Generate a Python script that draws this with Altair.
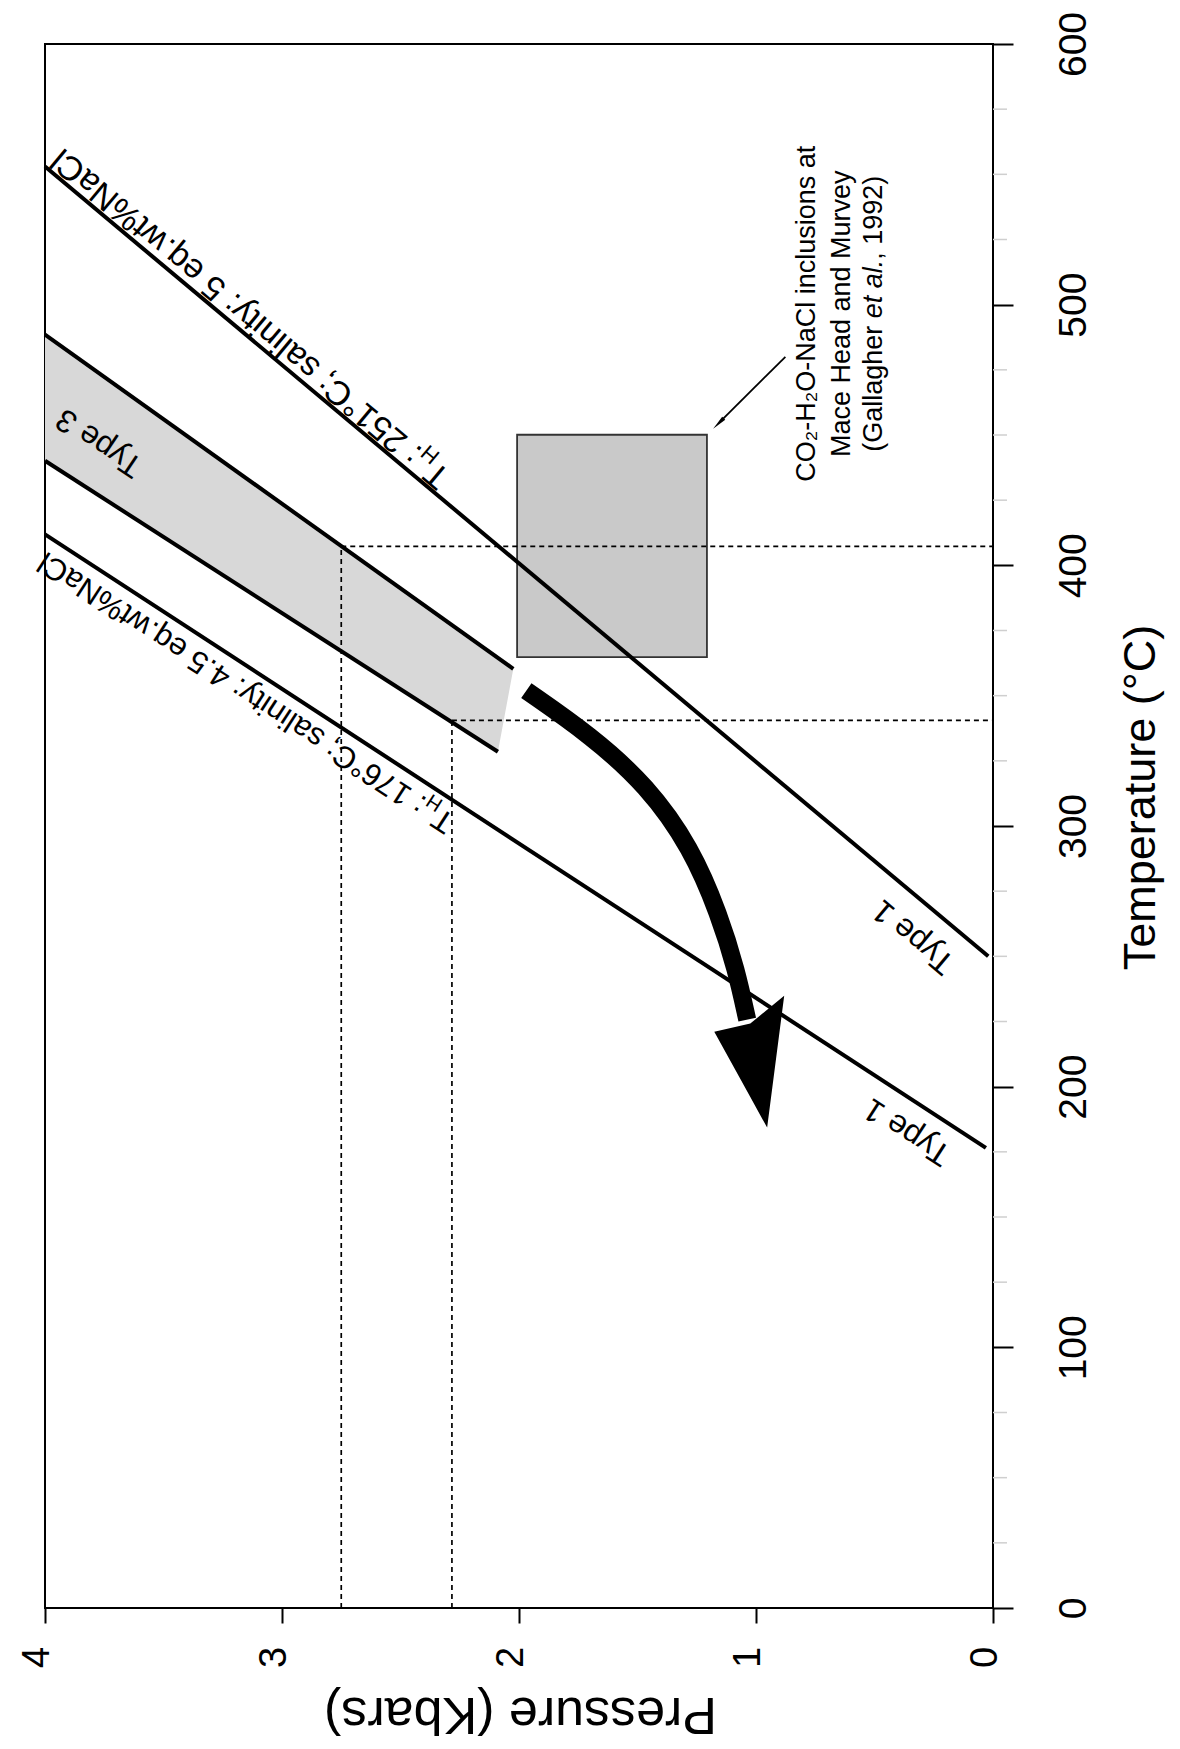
import numpy as np
import pandas as pd
import altair as alt

FONT = "Liberation Sans"

# ---------------- axes ----------------
pressure_ticks = [0, 1, 2, 3, 4]
temperature_ticks = [0, 100, 200, 300, 400, 500, 600]
temperature_minor = [25, 50, 75, 125, 150, 175, 225, 250, 275, 325, 350, 375,
                     425, 450, 475, 525, 550, 575]

# ---------------- isochores (kbar, °C at both ends) ----------------
iso_id = ["th251", "type3_upper", "type3_lower", "th176"]
iso_p0 = [4.0, 4.0, 4.0, 4.0]
iso_t0 = [553.0, 488.5, 440.1, 411.9]
iso_p1 = [0.02, 2.024, 2.089, 0.03]
iso_t1 = [250.0, 360.3, 328.5, 176.5]

# ---------------- Type 3 field ----------------
band_p = [4.0, 2.089, 2.024]
band_t_hi = [488.5, 364.5, 360.3]
band_t_lo = [440.1, 328.5, 360.3]

# ---------------- CO2-H2O-NaCl inclusion field ----------------
box_p = [1.207, 2.008]
box_t = [364.8, 450.1]

# ---------------- dotted read-off lines ----------------
guide_p = [2.75, 2.283]
guide_t = [407.3, 340.5]

# ---------------- cooling path ----------------
path_p = [1.969, 1.695, 1.459, 1.273, 1.155, 1.083, 1.037]
path_t = [351.9, 334.6, 315.4, 291.6, 265.9, 244.8, 225.7]
head_base_p = [0.881, 1.024, 1.176]   # barb, notch, barb
head_base_t = [234.9, 224.2, 221.1]
head_edge_p = [0.881, 0.953, 1.176]   # barb, tip, barb
head_edge_t = [234.9, 184.3, 221.1]

# ---------------- pointer to the inclusion field ----------------
pointer_p = [0.876, 1.151]
pointer_t = [480.0, 455.1]

# ---------------- labels ----------------
type_labels = ["Type 3", "Type 1", "Type 1"]
type_p = [3.771, 0.336, 0.362]
type_t = [447.0, 257.5, 182.7]
type_angle = [214, 220, 213]

th_rest = [": 251°C; salinity: 5 eq.wt%NaCl", ": 176°C; salinity: 4.5 eq.wt%NaCl"]
th_p = [3.131, 3.150]
th_t = [494.9, 351.5]
th_angle = [220, 213]
th_size = [34, 31]
th_rest_em = [13.849, 14.679]

ann_lines = ["CO₂-H₂O-NaCl inclusions at", "Mace Head and Murvey"]
ann_p = [0.784, 0.636]
ann_t = 496.5
ref_pieces = ["(Gallagher", "et al.", ", 1992)"]
ref_style = ["normal", "italic", "normal"]
ref_dx = [-138, -4.5, 54]
ref_p = 0.501

# ---------------- scales / axes ----------------
x_scale = alt.Scale(domain=[0, 4], reverse=True, nice=False)
y_scale = alt.Scale(domain=[0, 600], nice=False)

x_axis = alt.Axis(
    title="Pressure (Kbars)", values=pressure_ticks, format="d",
    domain=False, grid=False, tickSize=15, tickWidth=2, tickColor="black",
    labelFont=FONT, labelFontSize=38, labelColor="black", labelAngle=270,
    labelAlign="center", labelBaseline="alphabetic", labelPadding=34,
    labelOffset=3, labelFlush=False, labelOverlap=False,
    titleFont=FONT, titleFontSize=52, titleFontWeight="normal",
    titleColor="black", titleAngle=180, titleAlign="center",
    titleBaseline="middle", titleX=475, titleY=105, titleLimit=1000,
)
y_axis = alt.Axis(
    title="Temperature (°C)", orient="right", values=temperature_ticks, format="d",
    domain=False, grid=False, tickSize=20, tickWidth=2, tickColor="black",
    labelFont=FONT, labelFontSize=39, labelColor="black", labelAngle=270,
    labelAlign="center", labelBaseline="alphabetic", labelPadding=72,
    labelFlush=False, labelOverlap=False,
    titleFont=FONT, titleFontSize=45, titleFontWeight="normal",
    titleColor="black", titleAngle=270, titleAlign="center",
    titleBaseline="middle", titleX=147, titleY=753, titleLimit=1000,
)


def xenc(field="p"):
    return alt.X(f"{field}:Q", scale=x_scale, axis=x_axis)


def yenc(field="t"):
    return alt.Y(f"{field}:Q", scale=y_scale, axis=y_axis)


layers = []

# Type 3 shaded field
band_df = pd.DataFrame({"p": band_p, "hi": band_t_hi, "lo": band_t_lo})
layers.append(
    alt.Chart(band_df).mark_area(color="#d8d8d8", opacity=1)
    .encode(x=xenc(), y=yenc("hi"), y2="lo:Q")
)

# inclusion field box
box_df = pd.DataFrame({"p": [box_p[0]], "p2": [box_p[1]], "t": [box_t[0]], "t2": [box_t[1]]})
layers.append(
    alt.Chart(box_df).mark_rect(fill="#c9c9c9", stroke="#333333", strokeWidth=1.8)
    .encode(x=xenc(), x2="p2:Q", y=yenc(), y2="t2:Q")
)

# dotted read-off lines
vguide = pd.DataFrame({"p": guide_p, "t": [0.0] * len(guide_p), "t2": guide_t})
hguide = pd.DataFrame({"p": guide_p, "p2": [0.0] * len(guide_p), "t": guide_t})
dot = dict(color="black", strokeWidth=1.7, strokeDash=[5, 4])
layers.append(alt.Chart(vguide).mark_rule(**dot).encode(x=xenc(), y=yenc(), y2="t2:Q"))
layers.append(alt.Chart(hguide).mark_rule(**dot).encode(x=xenc(), x2="p2:Q", y=yenc()))

# isochores
iso_df = pd.DataFrame({"id": iso_id, "p": iso_p0, "t": iso_t0, "p2": iso_p1, "t2": iso_t1})
layers.append(
    alt.Chart(iso_df).mark_rule(color="black", strokeWidth=4)
    .encode(x=xenc(), x2="p2:Q", y=yenc(), y2="t2:Q")
)

# minor temperature ticks
minor_df = pd.DataFrame({"t": temperature_minor})
layers.append(
    alt.Chart(minor_df).mark_rule(color="#cfcfcf", strokeWidth=1.5)
    .encode(x=alt.value(948), x2=alt.value(962), y=yenc())
)

# cooling path
path_df = pd.DataFrame({"p": path_p, "t": path_t})
layers.append(
    alt.Chart(path_df).mark_line(color="black", strokeWidth=18, strokeCap="butt",
                                 interpolate="basis")
    .encode(x=xenc(), y=yenc())
)

# arrow head as a filled band between its base edge and its tip edge
head_x = np.unique(np.array(head_base_p + head_edge_p))
head_df = pd.DataFrame({
    "p": head_x,
    "hi": np.interp(head_x, head_base_p, head_base_t),
    "lo": np.interp(head_x, head_edge_p, head_edge_t),
})
layers.append(
    alt.Chart(head_df).mark_area(color="black", opacity=1)
    .encode(x=xenc(), y=yenc("hi"), y2="lo:Q")
)

# pointer to the inclusion field
ptr_df = pd.DataFrame({"p": [pointer_p[0]], "p2": [pointer_p[1]],
                       "t": [pointer_t[0]], "t2": [pointer_t[1]]})
layers.append(
    alt.Chart(ptr_df).mark_rule(color="black", strokeWidth=1.8)
    .encode(x=xenc(), x2="p2:Q", y=yenc(), y2="t2:Q")
)
tip_df = pd.DataFrame({"p": [pointer_p[1]], "t": [pointer_t[1]]})
layers.append(
    alt.Chart(tip_df).mark_point(shape="wedge", filled=True, color="black",
                                 opacity=1, size=300, angle=225)
    .encode(x=xenc(), y=yenc())
)


def text_layer(p, t, text, angle, size, align="center", dx=0, dy=0,
               style="normal", font=FONT):
    df = pd.DataFrame({"p": [p], "t": [t], "label": [text]})
    return (
        alt.Chart(df)
        .mark_text(angle=angle, fontSize=size, align=align, baseline="middle",
                   dx=dx, dy=dy, font=font, fontStyle=style, color="black")
        .encode(x=xenc(), y=yenc(), text="label:N")
    )


for lab, p, t, a in zip(type_labels, type_p, type_t, type_angle):
    layers.append(text_layer(p, t, lab, a, 32))

# homogenisation labels: "T", subscript "H", then the rest of the label
for rest, p, t, a, f, em in zip(th_rest, th_p, th_t, th_angle, th_size, th_rest_em):
    h = (1.08 + em) * f / 2
    layers.append(text_layer(p, t, "T", a, f, align="left", dx=-h))
    layers.append(text_layer(p, t, "H", a, round(f * 0.65), align="left",
                             dx=-h + 0.611 * f, dy=0.32 * f))
    layers.append(text_layer(p, t, rest, a, f, align="left", dx=-h + 1.08 * f))

for line, p in zip(ann_lines, ann_p):
    layers.append(text_layer(p, ann_t, line, 270, 27))
for piece, style, dx in zip(ref_pieces, ref_style, ref_dx):
    layers.append(text_layer(ref_p, ann_t, piece, 270, 27, align="left", dx=dx, style=style))

chart = (
    alt.layer(*layers)
    .properties(
        width=948, height=1564,
        padding={"left": 45, "top": 44, "right": 187, "bottom": 141},
        autosize=alt.AutoSizeParams(type="none"),
        background="white",
    )
    .configure_view(stroke="black", strokeWidth=2)
)

chart.save("out.html", embed_options={"renderer": "svg", "actions": False})
